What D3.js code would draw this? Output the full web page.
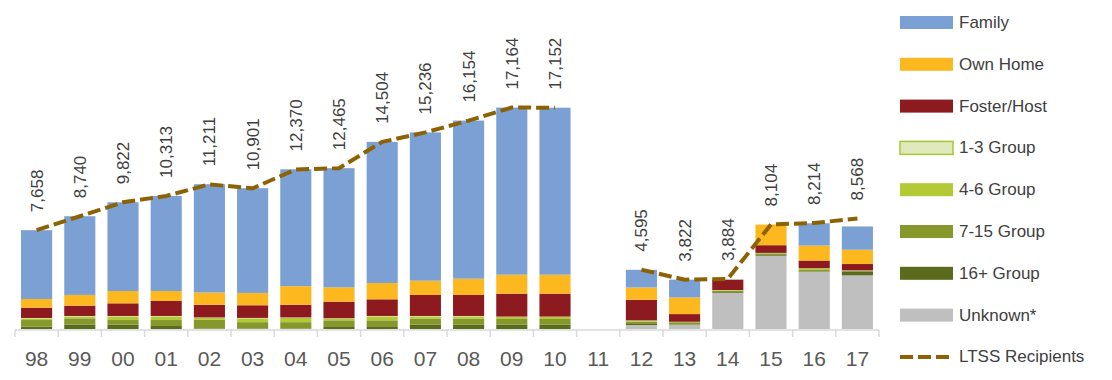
<!DOCTYPE html>
<meta charset="utf-8">
<head>
    <script src="https://d3js.org/d3.v7.min.js"></script>
    <style>
        body { margin: 0; background: white; }
        text { font-family: "Liberation Sans", Arial, sans-serif; }
    </style>
</head>
<body>
<script type="text/javascript">

    // years on the x axis
    var years = ["98", "99", "00", "01", "02", "03", "04", "05", "06", "07",
                 "08", "09", "10", "11", "12", "13", "14", "15", "16", "17"];

    // stacked series, bottom to top
    var unknown  = [0, 0, 0, 0, 0, 0, 0, 0, 0, 0, 0, 0, 0, 0, 310, 310, 2800, 5680, 4440, 4155];
    var group16  = [185, 335, 335, 230, 40, 40, 40, 155, 155, 335, 335, 335, 335, 0, 77, 30, 60, 60, 40, 310];
    var group7   = [510, 490, 360, 465, 670, 490, 490, 516, 516, 465, 465, 440, 440, 0, 180, 180, 100, 120, 90, 50];
    var group4   = [130, 155, 285, 285, 155, 300, 335, 130, 310, 180, 180, 155, 155, 0, 77, 30, 50, 30, 130, 20];
    var group1   = [30, 30, 30, 30, 30, 30, 30, 30, 30, 30, 30, 30, 30, 0, 20, 10, 10, 10, 10, 10];
    var foster   = [800, 800, 980, 1160, 980, 980, 980, 1290, 1290, 1625, 1625, 1780, 1780, 0, 1600, 595, 780, 595, 595, 490];
    var ownHome  = [670, 830, 955, 775, 955, 955, 1447, 1110, 1265, 1110, 1265, 1470, 1470, 0, 955, 1290, 40, 1600, 1160, 1110];
    var family   = [5333, 6100, 6877, 7368, 8391, 8116, 9058, 9234, 10938, 11491, 12254, 12954, 12942, 0, 1370, 1380, 40, 0, 1730, 1805];

    // LTSS recipients line (no value for 11)
    var ltss = [7658, 8740, 9822, 10313, 11211, 10901, 12370, 12465, 14504, 15236,
                16154, 17164, 17152, null, 4595, 3822, 3884, 8104, 8214, 8568];

    var seriesNames = ["Unknown*", "16+ Group", "7-15 Group", "4-6 Group", "1-3 Group",
                       "Foster/Host", "Own Home", "Family"];
    var seriesValues = [unknown, group16, group7, group4, group1, foster, ownHome, family];
    var seriesColors = ["#bfbfbf", "#5a6b1e", "#86972b", "#b3c935", "#dfe9be",
                        "#8c1a1e", "#fdb71f", "#7ba1d4"];

    var width = 1112;
    var height = 380;

    var svg = d3.select("body")
        .append("svg")
        .attr("width", width)
        .attr("height", height);

    var x = d3.scaleBand()
        .domain(years)
        .range([15, 879])
        .paddingInner(0.28)
        .paddingOuter(0.14);

    var y = d3.scaleLinear()
        .domain([0, 25500])
        .range([329, 0]);

    // build table for the stack
    var table = years.map(function (yr, i) {
        var row = {year: yr};
        seriesNames.forEach(function (n, k) {
            row[n] = seriesValues[k][i];
        });
        return row;
    });

    var stack = d3.stack().keys(seriesNames)(table);

    svg.append("g")
        .selectAll("g")
        .data(stack)
        .enter()
        .append("g")
        .attr("fill", function (d, i) { return seriesColors[i]; })
        .selectAll("rect")
        .data(function (d) { return d; })
        .enter()
        .append("rect")
        .attr("x", function (d) { return x(d.data.year); })
        .attr("width", x.bandwidth())
        .attr("y", function (d) { return y(d[1]); })
        .attr("height", function (d) { return y(d[0]) - y(d[1]); });

    // x axis with ticks between the bars
    var axis = svg.append("g").attr("transform", "translate(0,330)");
    axis.append("line")
        .attr("x1", 15).attr("x2", 879)
        .attr("stroke", "#d9d9d9").attr("stroke-width", 1.5);
    axis.selectAll(".tk")
        .data(d3.range(years.length + 1))
        .enter()
        .append("line")
        .attr("x1", function (i) { return 15 + i * x.step(); })
        .attr("x2", function (i) { return 15 + i * x.step(); })
        .attr("y1", 0).attr("y2", 7)
        .attr("stroke", "#d9d9d9").attr("stroke-width", 1.5);
    axis.selectAll(".lbl")
        .data(years)
        .enter()
        .append("text")
        .attr("x", function (d) { return x(d) + x.bandwidth() / 2; })
        .attr("y", 36)
        .attr("text-anchor", "middle")
        .attr("font-size", "21px")
        .attr("fill", "#595959")
        .text(function (d) { return d; });

    // LTSS line
    var line = d3.line()
        .defined(function (d) { return d !== null; })
        .x(function (d, i) { return x(years[i]) + x.bandwidth() / 2; })
        .y(function (d) { return y(d); });

    svg.append("path")
        .datum(ltss)
        .attr("fill", "none")
        .attr("stroke", "#8c6205")
        .attr("stroke-width", 4)
        .attr("stroke-dasharray", "13,5")
        .attr("d", line);

    // rotated value labels
    svg.selectAll(".val")
        .data(ltss)
        .enter()
        .filter(function (d) { return d !== null; })
        .append("text")
        .attr("transform", function (d, i) {
            var i2 = ltss.indexOf(d);
            var cx = x(years[i2]) + x.bandwidth() / 2;
            var cy = y(d) - 18;
            return "translate(" + (cx + 6) + "," + cy + ") rotate(-90)";
        })
        .attr("font-size", "17px")
        .attr("fill", "#404040")
        .text(function (d) { return d3.format(",")(d); });

    // legend
    var legendNames = ["Family", "Own Home", "Foster/Host", "1-3 Group", "4-6 Group",
                       "7-15 Group", "16+ Group", "Unknown*"];
    var legend = svg.append("g");
    legendNames.forEach(function (n, i) {
        var k = seriesNames.indexOf(n);
        var cy = 22.5 + i * 41.8;
        legend.append("rect")
            .attr("x", 900).attr("y", cy - 6.5)
            .attr("width", 53).attr("height", 13)
            .attr("fill", seriesColors[k])
            .attr("stroke", n === "1-3 Group" ? "#a9c634" : "none")
            .attr("stroke-width", 1.5);
        legend.append("text")
            .attr("x", 959).attr("y", cy)
            .attr("dominant-baseline", "central")
            .attr("font-size", "17px")
            .attr("fill", "#404040")
            .text(n);
    });
    var ly = 22.5 + 8 * 41.8;
    legend.append("line")
        .attr("x1", 900).attr("x2", 953)
        .attr("y1", ly).attr("y2", ly)
        .attr("stroke", "#8c6205")
        .attr("stroke-width", 4)
        .attr("stroke-dasharray", "13,5");
    legend.append("text")
        .attr("x", 959).attr("y", ly)
        .attr("dominant-baseline", "central")
        .attr("font-size", "17px")
        .attr("fill", "#404040")
        .text("LTSS Recipients");

</script>
</body>
</html>
